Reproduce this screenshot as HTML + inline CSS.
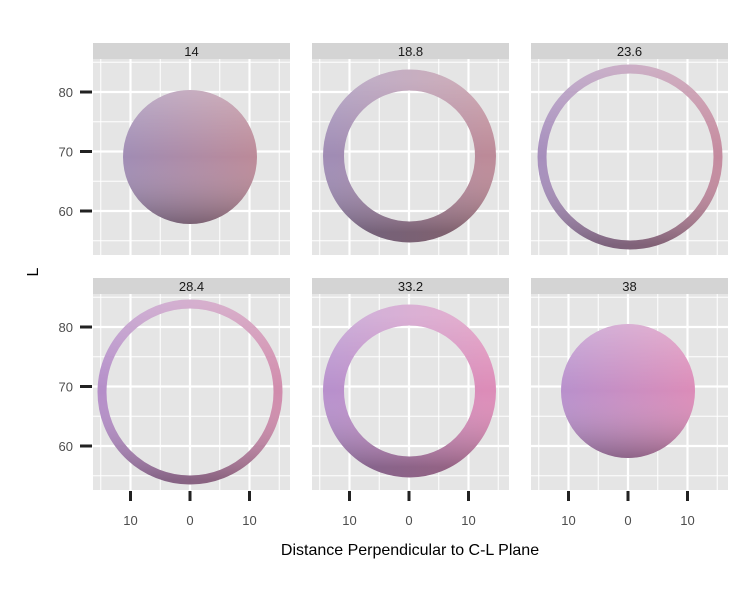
<!DOCTYPE html>
<html><head><style>body{margin:0;background:#fff}svg{display:block}</style></head><body>
<svg width="750" height="600" xmlns="http://www.w3.org/2000/svg" xmlns:xlink="http://www.w3.org/1999/xlink" font-family="Liberation Sans, sans-serif">
<defs>
<linearGradient id="h1" x1="0" y1="0" x2="1" y2="0"><stop offset="0" stop-color="#a08cb4"/><stop offset="1" stop-color="#bc8a98"/></linearGradient>
<linearGradient id="h2" x1="0" y1="0" x2="1" y2="0"><stop offset="0" stop-color="#a68ebc"/><stop offset="1" stop-color="#c48a9e"/></linearGradient>
<linearGradient id="h3" x1="0" y1="0" x2="1" y2="0"><stop offset="0" stop-color="#b48ec8"/><stop offset="1" stop-color="#d08cac"/></linearGradient>
<linearGradient id="h4" x1="0" y1="0" x2="1" y2="0"><stop offset="0" stop-color="#b890cc"/><stop offset="1" stop-color="#dc8cb8"/></linearGradient>
<linearGradient id="v" x1="0" y1="0" x2="0" y2="1"><stop offset="0" stop-color="#fff" stop-opacity="0.3"/><stop offset="0.5" stop-color="#fff" stop-opacity="0"/><stop offset="1" stop-color="#000" stop-opacity="0.3"/></linearGradient>
<g id="p">
<rect x="0" y="-16" width="197" height="16" fill="#d4d4d4"/>
<rect x="0" y="0" width="197" height="196" fill="#e5e5e5"/>
<g stroke="#fff" stroke-width="1">
<line x1="7.75" x2="7.75" y1="0" y2="196"/><line x1="67.25" x2="67.25" y1="0" y2="196"/><line x1="126.75" x2="126.75" y1="0" y2="196"/><line x1="186.25" x2="186.25" y1="0" y2="196"/>
<line y1="3.25" y2="3.25" x1="0" x2="197"/><line y1="62.75" y2="62.75" x1="0" x2="197"/><line y1="122.25" y2="122.25" x1="0" x2="197"/><line y1="181.75" y2="181.75" x1="0" x2="197"/>
</g>
<g stroke="#fff" stroke-width="2.2">
<line x1="37.5" x2="37.5" y1="0" y2="196"/><line x1="97" x2="97" y1="0" y2="196"/><line x1="156.5" x2="156.5" y1="0" y2="196"/>
<line y1="33" y2="33" x1="0" x2="197"/><line y1="92.5" y2="92.5" x1="0" x2="197"/><line y1="152" y2="152" x1="0" x2="197"/>
</g>
</g>
</defs>
<use xlink:href="#p" x="93" y="59"/><use xlink:href="#p" x="312" y="59"/><use xlink:href="#p" x="531" y="59"/>
<use xlink:href="#p" x="93" y="294"/><use xlink:href="#p" x="312" y="294"/><use xlink:href="#p" x="531" y="294"/>
<g font-size="13" text-anchor="middle" fill="#1a1a1a">
<text x="191.5" y="56">14</text><text x="410.5" y="56">18.8</text><text x="629.5" y="56">23.6</text>
<text x="191.5" y="291">28.4</text><text x="410.5" y="291">33.2</text><text x="629.5" y="291">38</text>
</g>
<g stroke="#222" stroke-width="3">
<line x1="80" x2="92" y1="92" y2="92"/><line x1="80" x2="92" y1="151.5" y2="151.5"/><line x1="80" x2="92" y1="211" y2="211"/>
<line x1="80" x2="92" y1="327" y2="327"/><line x1="80" x2="92" y1="386.5" y2="386.5"/><line x1="80" x2="92" y1="446" y2="446"/>
<line x1="130.5" x2="130.5" y1="491" y2="501"/><line x1="190" x2="190" y1="491" y2="501"/><line x1="249.5" x2="249.5" y1="491" y2="501"/>
<line x1="349.5" x2="349.5" y1="491" y2="501"/><line x1="409" x2="409" y1="491" y2="501"/><line x1="468.5" x2="468.5" y1="491" y2="501"/>
<line x1="568.5" x2="568.5" y1="491" y2="501"/><line x1="628" x2="628" y1="491" y2="501"/><line x1="687.5" x2="687.5" y1="491" y2="501"/>
</g>
<g font-size="13" text-anchor="end" fill="#4d4d4d">
<text x="73" y="97">80</text><text x="73" y="156.5">70</text><text x="73" y="216">60</text>
<text x="73" y="332">80</text><text x="73" y="391.5">70</text><text x="73" y="451">60</text>
</g>
<g font-size="13" text-anchor="middle" fill="#4d4d4d">
<text x="130.5" y="525">10</text><text x="190" y="525">0</text><text x="249.5" y="525">10</text>
<text x="349.5" y="525">10</text><text x="409" y="525">0</text><text x="468.5" y="525">10</text>
<text x="568.5" y="525">10</text><text x="628" y="525">0</text><text x="687.5" y="525">10</text>
</g>
<circle cx="190" cy="157" r="67" fill="url(#h1)"/><circle cx="190" cy="157" r="67" fill="url(#v)"/>
<circle cx="409.5" cy="156" r="76" fill="none" stroke="url(#h1)" stroke-width="21"/><circle cx="409.5" cy="156" r="76" fill="none" stroke="url(#v)" stroke-width="21"/>
<circle cx="630" cy="157" r="88" fill="none" stroke="url(#h2)" stroke-width="9"/><circle cx="630" cy="157" r="88" fill="none" stroke="url(#v)" stroke-width="9"/>
<circle cx="190" cy="392" r="88" fill="none" stroke="url(#h3)" stroke-width="9"/><circle cx="190" cy="392" r="88" fill="none" stroke="url(#v)" stroke-width="9"/>
<circle cx="409.5" cy="391" r="76" fill="none" stroke="url(#h4)" stroke-width="21"/><circle cx="409.5" cy="391" r="76" fill="none" stroke="url(#v)" stroke-width="21"/>
<circle cx="628" cy="391" r="67" fill="url(#h4)"/><circle cx="628" cy="391" r="67" fill="url(#v)"/>
<text x="410" y="555" font-size="16" text-anchor="middle" fill="#000">Distance Perpendicular to C-L Plane</text>
<text x="38" y="272" font-size="16" text-anchor="middle" fill="#000" transform="rotate(-90 38 272)">L</text>
</svg>
</body></html>
